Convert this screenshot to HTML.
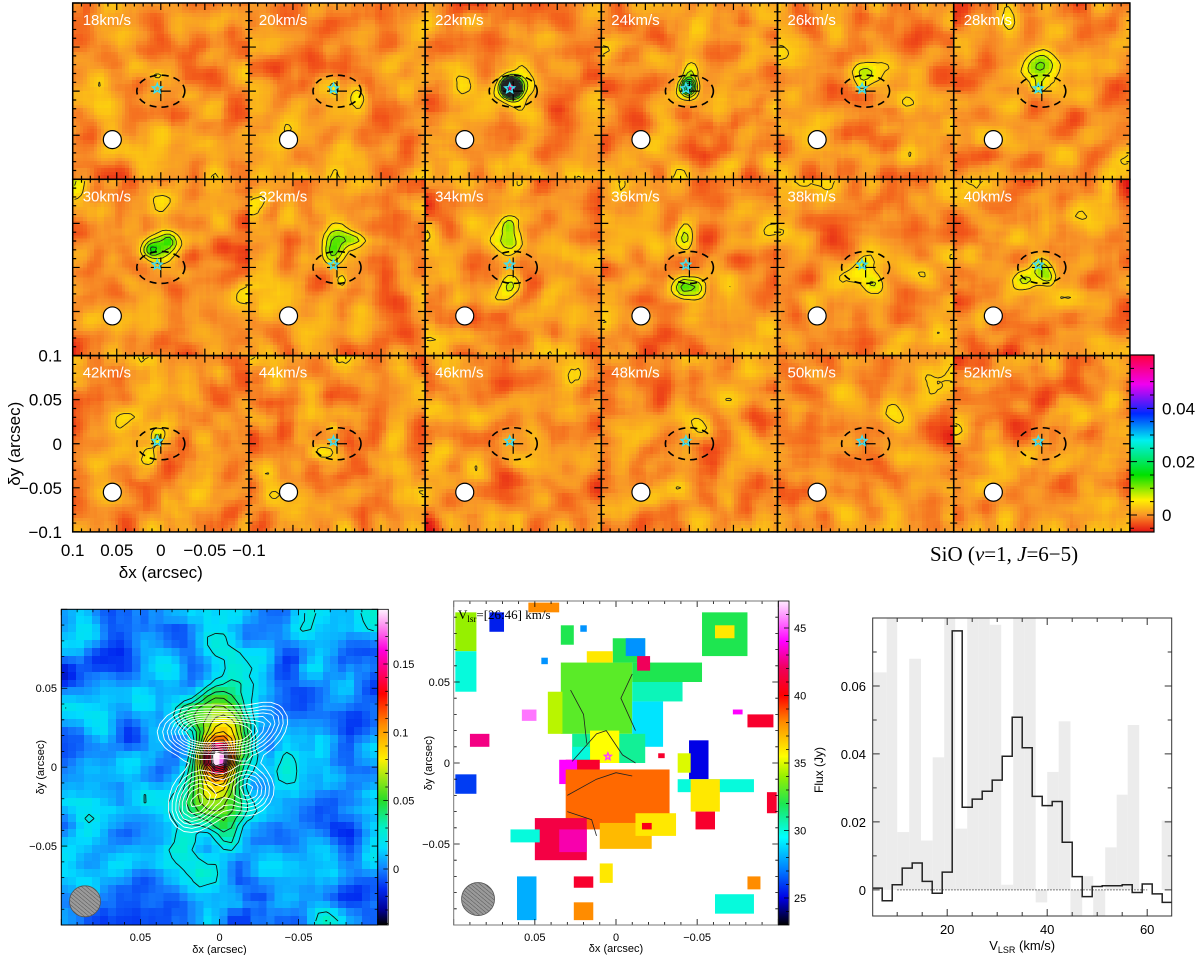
<!DOCTYPE html>
<html><head><meta charset="utf-8">
<style>
html,body{margin:0;padding:0;background:#fff;}
#wrap{position:relative;width:1200px;height:955px;overflow:hidden;font-family:"Liberation Sans",sans-serif;}
canvas{position:absolute;image-rendering:pixelated;}
svg{position:absolute;left:0;top:0;}
</style></head>
<body>
<div id="wrap">
<svg id="svg" width="1200" height="955" xmlns="http://www.w3.org/2000/svg">
<defs>
<pattern id="hatch" width="3" height="3" patternUnits="userSpaceOnUse" patternTransform="rotate(-50)">
<rect width="3" height="3" fill="#9a9a9a"/><line x1="0" y1="0" x2="0" y2="3" stroke="#555" stroke-width="1"/>
</pattern>
</defs>
</svg>
</div>
<script>
// ---------------- DATA ----------------
const chanVel = [18,20,22,24,26,28,30,32,34,36,38,40,42,44,46,48,50,52];
// emission components per channel: [x, y, amp(Jy), sx, sy] (arcsec)
const chanComps = [
 [[0.004,0.017,0.0035,0.005,0.003]],
 [[0.002,0.003,0.005,0.004,0.007],[-0.025,-0.005,0.004,0.006,0.008]],
 [[0.002,0.004,0.05,0.006,0.006],[0,0.004,0.012,0.013,0.012]],
 [[0.001,0.005,0.02,0.006,0.006],[-0.001,0.02,0.008,0.006,0.012]],
 [[0.0,0.02,0.007,0.012,0.01],[0.005,0.005,0.005,0.006,0.006]],
 [[0.0,0.025,0.009,0.016,0.012],[0.005,0.005,0.006,0.006,0.006]],
 [[0.002,0.025,0.008,0.012,0.014],[0.012,0.02,0.007,0.006,0.006],[-0.01,0.03,0.006,0.005,0.006]],
 [[0.0,0.03,0.012,0.012,0.01],[0.005,0.015,0.008,0.008,0.008],[-0.022,0.032,0.005,0.01,0.005],[-0.005,-0.015,0.005,0.005,0.005]],
 [[0.005,0.03,0.01,0.012,0.012],[0.002,-0.02,0.009,0.01,0.01],[0.005,0.048,0.006,0.006,0.006]],
 [[0.005,0.035,0.009,0.008,0.012],[0.003,-0.022,0.011,0.01,0.009],[-0.012,-0.025,0.006,0.006,0.008]],
 [[0.01,-0.01,0.006,0.014,0.012],[-0.01,-0.02,0.006,0.008,0.008],[0.002,0.005,0.004,0.005,0.005]],
 [[0.0,0.0,0.006,0.008,0.008],[0.02,-0.015,0.006,0.01,0.008],[-0.008,-0.012,0.005,0.006,0.006]],
 [[0.004,0.006,0.007,0.004,0.006],[0.012,-0.012,0.006,0.008,0.01],[0.022,-0.038,0.004,0.007,0.006]],
 [[0.012,-0.01,0.005,0.012,0.006],[0.004,0.018,0.004,0.004,0.003]],
 [],[],[],[]
];
const chanLevels = [0.0035,0.007,0.0105,0.014,0.0175,0.021,0.0245,0.028,0.0315,0.035,0.0385,0.042,0.0455,0.049];
const chanCbarTicks = [0,0.02,0.04];

// integrated intensity map
const momComps = [[0.0,0.005,0.12,0.006,0.006],[0.0,0.013,0.06,0.01,0.01],[0.002,0.033,0.05,0.02,0.018],
 [0.004,-0.028,0.05,0.02,0.015],[0.0,-0.01,0.05,0.009,0.009],[-0.01,0.06,0.018,0.006,0.012],[-0.042,0.0,0.02,0.008,0.01]];
const whiteComps = [[0.014,0.022,1,0.014,0.009],[-0.014,0.022,0.9,0.014,0.009],[0.012,-0.018,0.75,0.011,0.011],
 [-0.018,-0.014,0.75,0.01,0.01],[-0.032,0.032,0.35,0.008,0.007],[0.02,-0.03,0.35,0.008,0.008]];
const momLevels = [0.02,0.03,0.04,0.05,0.06,0.07,0.08,0.09,0.1,0.11,0.12,0.13,0.14,0.15,0.16,0.17];
const whiteLevels = [0.2,0.3,0.4,0.5,0.6,0.7,0.8,0.9];
const momCbarTicks = [0,0.05,0.1,0.15];

// velocity map blocks [x0, y0, x1, y1, v] (arcsec, km/s)
const velBlocks = [
 [0.034,0.062,-0.010,0.018,33],[0.042,0.044,0.033,0.018,34.5],[-0.010,0.062,-0.053,0.050,32],
 [-0.010,0.050,-0.041,0.038,30.5],[-0.010,0.038,-0.029,0.010,29],[0.002,0.077,-0.018,0.062,32],
 [-0.006,0.077,-0.018,0.066,27.5],[0.018,0.069,0.002,0.062,36],[0.027,0.018,-0.018,0.0,31],
 [0.016,0.020,-0.002,0.0,35.5],[0.027,0.010,0.016,0.0,30],[0.031,0.002,0.010,-0.017,41],
 [0.035,0.002,0.024,-0.013,44],[0.031,-0.004,-0.033,-0.041,38.5],[0.010,-0.037,-0.022,-0.053,37],
 [0.050,-0.034,0.018,-0.060,41.5],[0.035,-0.041,0.018,-0.055,43],[-0.012,-0.031,-0.037,-0.045,36],
 [-0.016,-0.037,-0.022,-0.041,40.5],[0.065,-0.041,0.047,-0.049,30],
 [0.099,0.093,0.086,0.069,34],[0.099,0.069,0.086,0.044,30],[0.099,-0.007,0.086,-0.019,26],
 [0.090,0.018,0.078,0.010,42.5],[0.058,0.033,0.049,0.026,45.5],[0.078,0.093,0.069,0.081,25.5],
 [0.054,0.099,0.035,0.093,38],[0.034,0.085,0.026,0.073,32],[-0.013,0.066,-0.021,0.057,42],
 [-0.053,0.093,-0.081,0.066,32],[-0.061,0.085,-0.073,0.077,36],[-0.045,0.014,-0.057,-0.010,25],
 [-0.038,0.006,-0.046,-0.006,35],[-0.038,-0.010,-0.085,-0.018,30],[-0.046,-0.010,-0.064,-0.030,36],
 [-0.049,-0.030,-0.061,-0.041,41],[-0.081,0.030,-0.097,0.022,41],[-0.093,-0.018,-0.099,-0.031,41],
 [0.026,-0.070,0.014,-0.077,41],[0.010,-0.062,0.002,-0.074,36],[0.026,-0.086,0.014,-0.097,38],
 [0.061,-0.070,0.049,-0.097,28],[-0.061,-0.081,-0.085,-0.093,30],[-0.081,-0.070,-0.089,-0.078,38],
 [-0.072,0.033,-0.078,0.030,44],[0.046,0.065,0.042,0.061,27.5],[0.022,0.085,0.018,0.081,27.5],
 [-0.026,0.006,-0.030,0.003,41]
];
const velCbarTicks = [25,30,35,40,45];

// spectrum
const specEdges = [5,7,9,11,13,15,17,19,21,23,25,27,29,31,33,35,37,39,41,43,45,47,49,51,53,55,57,59,61,63,65];
const specFlux = [0.0005,-0.0032,0.0015,0.0064,0.0079,0.0025,-0.001,0.0052,0.0762,0.0243,0.0267,0.029,0.0323,0.0393,0.0508,0.0418,0.0275,0.0248,0.026,0.014,0.0039,-0.002,0.001,0.0012,0.0012,0.0015,-0.0008,0.0017,-0.0012,-0.0037];
const noiseEdges = [5.1,7.9,10.0,12.4,14.75,17.1,19.4,21.6,24.0,26.3,28.5,30.8,33.2,35.5,37.7,40.0,42.3,44.65,47.0,49.2,51.6,53.9,56.1,58.4,60.7,62.9,65];
const noiseVals = [0.064,0.09,0.017,0.068,0.0145,0.039,0.09,0.018,0.09,0.09,0.078,0.0015,0.09,0.09,-0.0037,0.0347,0.0496,-0.0077,0.004,-0.0077,0.0125,0.028,0.0485,0,0,0.0204];
const specXTicks = [20,40,60];
const specYTicks = [0,0.02,0.04,0.06];

// ---------------- HELPERS ----------------
const svg = document.getElementById('svg');
const wrap = document.getElementById('wrap');
const NS = 'http://www.w3.org/2000/svg';
function mk(tag, attrs, parent){ const e=document.createElementNS(NS,tag); for(const k in attrs) e.setAttribute(k,attrs[k]); (parent||svg).appendChild(e); return e; }
function txt(s,x,y,size,anchor,parent,fam,fill){ const t=mk('text',{x:x,y:y,'font-size':size,'text-anchor':anchor||'middle','font-family':fam||'"Liberation Sans",sans-serif',fill:fill||'#000'},parent); t.textContent=s; return t; }
function rng(seed){ let s=seed>>>0; return ()=>{ s=(Math.imul(s,1664525)+1013904223)>>>0; return s/4294967296; }; }
function noiseGrid(n, seed, sd, r){
  const R=rng(seed); let g=[]; for(let j=0;j<n;j++){g.push([]);for(let i=0;i<n;i++)g[j].push(R()+R()+R()-1.5);}
  for(let pass=0;pass<2;pass++){
    let h=g.map(row=>row.map((_,i)=>{let s=0,c=0;for(let k=-r;k<=r;k++){const ii=i+k;if(ii>=0&&ii<n){s+=row[ii];c++;}}return s/c;}));
    g=h.map((row,j)=>row.map((_,i)=>{let s=0,c=0;for(let k=-r;k<=r;k++){const jj=j+k;if(jj>=0&&jj<n){s+=h[jj][i];c++;}}return s/c;}));
  }
  let m=0,v=0; g.forEach(r=>r.forEach(x=>{m+=x;})); m/=n*n; g.forEach(r=>r.forEach(x=>{v+=(x-m)*(x-m);})); v=Math.sqrt(v/(n*n));
  return g.map(r=>r.map(x=>(x-m)/v*sd));
}
function gauss(comps,x,y){ let s=0; comps.forEach(c=>{ s+=c[2]*Math.exp(-((x-c[0])**2/(2*c[3]*c[3])+(y-c[1])**2/(2*c[4]*c[4]))); }); return s; }
function cmapFn(stops){ return v=>{ if(v<=stops[0][0]) return stops[0][1]; for(let k=1;k<stops.length;k++){ if(v<=stops[k][0]){ const a=stops[k-1],b=stops[k],t=(v-a[0])/(b[0]-a[0]); return a[1].map((c,i)=>Math.round(c+(b[1][i]-c)*t)); } } return stops[stops.length-1][1]; }; }
const chanCmap = cmapFn([[-0.0064,[225,20,20]],[-0.003,[242,85,25]],[0,[248,150,40]],[0.0056,[255,240,0]],[0.015,[0,225,0]],[0.028,[0,240,240]],[0.038,[0,40,255]],[0.049,[240,0,240]],[0.06,[255,0,60]]]);
const momCmap = cmapFn([[-0.041,[0,0,0]],[-0.03,[0,0,150]],[-0.015,[0,40,240]],[0.0,[20,130,255]],[0.015,[0,220,255]],[0.03,[0,240,200]],[0.05,[40,220,40]],[0.08,[255,240,0]],[0.105,[255,140,0]],[0.128,[255,0,0]],[0.16,[255,0,220]],[0.19,[255,245,255]]]);
const velCmap = cmapFn([[23,[0,0,0]],[25,[0,0,230]],[27,[0,120,255]],[29.5,[0,255,255]],[32,[30,230,80]],[34,[150,240,0]],[35.5,[255,255,0]],[38,[255,140,0]],[40,[255,0,0]],[42,[240,0,90]],[44,[255,0,255]],[47,[255,235,255]]]);
function rgb(c){return 'rgb('+c[0]+','+c[1]+','+c[2]+')';}
function makeCanvas(x,y,w,h,name){ const c=document.createElement('canvas'); c.width=Math.round(w); c.height=Math.round(h); c.style.left=x+'px'; c.style.top=y+'px'; c.style.width=w+'px'; c.style.height=h+'px';
  
  
  wrap.insertBefore(c,svg); return c.getContext('2d'); }
function contour(grid,n,level,px,py){
  let d='';
  for(let j=0;j<n-1;j++)for(let i=0;i<n-1;i++){
    const a=grid[j][i],b=grid[j][i+1],c=grid[j+1][i+1],e=grid[j+1][i];
    const idx=(a>level?8:0)|(b>level?4:0)|(c>level?2:0)|(e>level?1:0);
    if(idx===0||idx===15)continue;
    const T=()=>[px(i+(level-a)/(b-a)),py(j)], Rr=()=>[px(i+1),py(j+(level-b)/(c-b))], B=()=>[px(i+(level-e)/(c-e)),py(j+1)], L=()=>[px(i),py(j+(level-a)/(e-a))];
    const segs={1:[[L,B]],2:[[B,Rr]],3:[[L,Rr]],4:[[T,Rr]],5:[[L,T],[B,Rr]],6:[[T,B]],7:[[L,T]],8:[[L,T]],9:[[T,B]],10:[[T,Rr],[L,B]],11:[[T,Rr]],12:[[L,Rr]],13:[[B,Rr]],14:[[L,B]]}[idx];
    segs.forEach(s=>{const p=s[0](),q=s[1](); d+='M'+p[0].toFixed(1)+' '+p[1].toFixed(1)+'L'+q[0].toFixed(1)+' '+q[1].toFixed(1);});
  }
  return d;
}
function dashedEllipse(cx,cy,rx,ry,g){ mk('ellipse',{cx:cx,cy:cy,rx:rx,ry:ry,fill:'none',stroke:'#000','stroke-width':1.6,'stroke-dasharray':'7,5'},g); }
function star(cx,cy,r,color,g){ let pts=[]; for(let k=0;k<10;k++){const rr=k%2?r*0.45:r; const a=-Math.PI/2+k*Math.PI/5; pts.push((cx+rr*Math.cos(a)).toFixed(1)+','+(cy+rr*Math.sin(a)).toFixed(1));} return mk('polygon',{points:pts.join(' '),fill:'none',stroke:color,'stroke-width':1.5},g); }

// ---------------- CHANNEL MAPS ----------------
const CX0=72.7, CY0=3, CW=176.2, CH=176.3, N=50;
const cgAll = mk('g',{});


chanVel.forEach((vel,k)=>{
  const col=k%6,row=Math.floor(k/6), x0=CX0+col*CW, y0=CY0+row*CH;
  const noise=noiseGrid(N,1000+k*77,0.0015,2);
  const grid=[];
  for(let j=0;j<N;j++){grid.push([]);for(let i=0;i<N;i++){const ax=0.1-(i+0.5)*0.2/N, ay=0.1-(j+0.5)*0.2/N; grid[j].push(noise[j][i]+gauss(chanComps[k],ax,ay));}}
  const ctx=makeCanvas(x0,y0,CW,CH,'channel-map-'+vel+'-image');
  const cw=CW/N,ch=CH/N;
  for(let j=0;j<N;j++)for(let i=0;i<N;i++){ctx.fillStyle=rgb(chanCmap(grid[j][i]));ctx.fillRect(Math.floor(i*cw),Math.floor(j*ch),Math.ceil(cw)+1,Math.ceil(ch)+1);}
  const g=mk('g',{},cgAll);
  
  
  const px=i=>x0+(i+0.5)*cw, py=j=>y0+(j+0.5)*ch;
  const cp=mk('clipPath',{id:'cp'+k},g); mk('rect',{x:x0,y:y0,width:CW,height:CH},cp);
  let d=''; chanLevels.forEach(l=>{d+=contour(grid,N,l,px,py);});
  const cpath=mk('path',{d:d,fill:'none',stroke:'#222','stroke-width':0.9,'clip-path':'url(#cp'+k+')'},g);
  
  
  const sx=a=>x0+(0.1-a)*CW/0.2, sy=a=>y0+(0.1-a)*CH/0.2;
  let td='';
  for(let t=-10;t<=10;t++){const a=t/100, L=(t%5===0)?7:3.5;
    td+='M'+sx(a)+' '+y0+'v'+L+'M'+sx(a)+' '+(y0+CH)+'v'+(-L)+'M'+x0+' '+sy(a)+'h'+L+'M'+(x0+CW)+' '+sy(a)+'h'+(-L);}
  td+='M'+(sx(0)-10)+' '+sy(0)+'h20M'+sx(0)+' '+(sy(0)-10)+'v20';
  mk('path',{d:td,stroke:'#000','stroke-width':1.2,fill:'none'},g);
  mk('rect',{x:x0,y:y0,width:CW,height:CH,fill:'none',stroke:'#000','stroke-width':1.5},g);
  dashedEllipse(sx(0),sy(0),24,16,g);
  star(sx(0.004),sy(0.003),5,'#3fe0f0',g);
  const beam=mk('circle',{cx:sx(0.055),cy:sy(-0.055),r:9,fill:'#fff',stroke:'#000','stroke-width':1.2},g);
  
  
  const lab=txt(vel+'km/s',x0+10,y0+22,15,'start',g,'"Liberation Sans",sans-serif','#fff');
  
  
});
{
  const g=mk('g',{});
  
  
  const yt=[[0.1,'0.1'],[0.05,'0.05'],[0,'0'],[-0.05,'\u22120.05'],[-0.1,'\u22120.1']];
  const by=CY0+2*CH;
  yt.forEach(t=>{const e=txt(t[1],62,by+(0.1-t[0])*CH/0.2+6,17,'end',g);  });
  yt.forEach(t=>{const e=txt(t[1],CX0+(0.1-t[0])*CW/0.2,556,17,'middle',g);  });
  const yl=txt('\u03b4y (arcsec)',0,0,17,'middle',g); yl.setAttribute('transform','translate(20,'+(by+CH/2)+') rotate(-90)');
  
  
  const xl=txt('\u03b4x (arcsec)',CX0+CW/2,578,17,'middle',g);
  
  
  const tt=mk('text',{x:930,y:561,'font-size':21,'font-family':'"Liberation Serif",serif'},g);
  tt.innerHTML='SiO (<tspan font-style="italic">v</tspan>=1, <tspan font-style="italic">J</tspan>=6\u22125)';
  
  
  const cbx=1130,cby=355,cbw=24,cbh=177, vmin=-0.0064, vmax=0.06;
  const ctx=makeCanvas(cbx,cby,cbw,cbh,'channel-colorbar-image');
  for(let y=0;y<cbh;y++){ctx.fillStyle=rgb(chanCmap(vmax-(y+0.5)/cbh*(vmax-vmin)));ctx.fillRect(0,y,cbw,1);}
  const cg=mk('g',{},g);
  
  
  mk('rect',{x:cbx,y:cby,width:cbw,height:cbh,fill:'none',stroke:'#000','stroke-width':1.2},cg);
  const cy=v=>cby+(vmax-v)/(vmax-vmin)*cbh;
  let td=''; for(let t=-5;t<=58;t+=5){const v=t/1000;const L=(t%20===0)?7:4; td+='M'+(cbx+cbw)+' '+cy(v)+'h'+(-L)+'M'+cbx+' '+cy(v)+'h'+L;}
  mk('path',{d:td,stroke:'#000','stroke-width':1},cg);
  chanCbarTicks.forEach(v=>{const e=txt(v===0?'0':v.toFixed(2),1162,cy(v)+6,17,'start',cg);  });
}

// ---------------- INTEGRATED INTENSITY MAP ----------------
{
  const x0=61.3,y0=609.3,W=316.4,H=315.7,n=40;
  const g=mk('g',{});
  
  
  const noise=noiseGrid(n,4242,0.0085,1);
  const grid=[],wgrid=[];
  for(let j=0;j<n;j++){grid.push([]);wgrid.push([]);for(let i=0;i<n;i++){const ax=0.1-(i+0.5)*0.2/n, ay=0.1-(j+0.5)*0.2/n; grid[j].push(0.003+noise[j][i]+gauss(momComps,ax,ay)); wgrid[j].push(gauss(whiteComps,ax,ay));}}
  const ctx=makeCanvas(x0,y0,W,H,'intensity-map-image');
  const cw=W/n,ch=H/n;
  for(let j=0;j<n;j++)for(let i=0;i<n;i++){ctx.fillStyle=rgb(momCmap(grid[j][i]));ctx.fillRect(Math.floor(i*cw),Math.floor(j*ch),Math.ceil(cw)+1,Math.ceil(ch)+1);}
  const px=i=>x0+(i+0.5)*cw, py=j=>y0+(j+0.5)*ch;
  let d=''; momLevels.forEach(l=>{d+=contour(grid,n,l,px,py);});
  const bc=mk('path',{d:d,fill:'none',stroke:'#111','stroke-width':0.9},g);
  
  
  let w=''; whiteLevels.forEach(l=>{w+=contour(wgrid,n,l,px,py);});
  const wc=mk('path',{d:w,fill:'none',stroke:'#fff','stroke-width':0.9},g);
  
  
  const sx=a=>x0+(0.1-a)*W/0.2, sy=a=>y0+(0.1-a)*H/0.2;
  let td=''; for(let t=-10;t<=10;t++){const a=t/100,L=(t%5===0)?6:3; td+='M'+sx(a)+' '+y0+'v'+L+'M'+sx(a)+' '+(y0+H)+'v'+(-L)+'M'+x0+' '+sy(a)+'h'+L+'M'+(x0+W)+' '+sy(a)+'h'+(-L);}
  mk('path',{d:td,stroke:'#000','stroke-width':0.8},g);
  mk('rect',{x:x0,y:y0,width:W,height:H,fill:'none',stroke:'#000','stroke-width':1},g);
  const bm=mk('circle',{cx:sx(0.085),cy:sy(-0.085),r:15.5,fill:'url(#hatch)',stroke:'#555','stroke-width':0.8},g);
  
  
  [[0.05,'0.05'],[0,'0'],[-0.05,'\u22120.05']].forEach(t=>{
    const a=txt(t[1],57,sy(t[0])+4,11,'end',g);  
    const b=txt(t[1],sx(t[0]),941,11,'middle',g);  });
  const xl=txt('\u03b4x (arcsec)',sx(0),953,11,'middle',g);
  
  
  const yl=txt('\u03b4y (arcsec)',0,0,11,'middle',g); yl.setAttribute('transform','translate(44,'+sy(0)+') rotate(-90)');
  
  
  const cbx=377.7,cbw=10.6,vmin=-0.041,vmax=0.19;
  const c2=makeCanvas(cbx,y0,cbw,H,'intensity-colorbar-image');
  for(let y=0;y<H;y++){c2.fillStyle=rgb(momCmap(vmax-(y+0.5)/H*(vmax-vmin)));c2.fillRect(0,y,cbw,1);}
  const cg=mk('g',{},g);
  
  
  mk('rect',{x:cbx,y:y0,width:cbw,height:H,fill:'none',stroke:'#000','stroke-width':0.8},cg);
  const cy=v=>y0+(vmax-v)/(vmax-vmin)*H;
  let cd=''; for(let t=-4;t<=18;t++){const v=t/100; cd+='M'+(cbx+cbw)+' '+cy(v)+'h'+(t%5===0?-5:-3);}
  mk('path',{d:cd,stroke:'#000','stroke-width':0.8},cg);
  momCbarTicks.forEach(v=>{const e=txt(v===0?'0':String(v),393,cy(v)+4,11,'start',cg);  });
}

// ---------------- VELOCITY MAP ----------------
{
  const x0=453.7,y0=601,W=324.6,H=324,vmin=23,vmax=47;
  const g=mk('g',{});
  
  
  const sx=a=>x0+(0.1-a)*W/0.2, sy=a=>y0+(0.1-a)*H/0.2;
  velBlocks.forEach(b=>{
    const r=mk('rect',{x:sx(b[0]),y:sy(b[1]),width:sx(b[2])-sx(b[0]),height:sy(b[3])-sy(b[1]),fill:rgb(velCmap(b[4]))},g);
    
    
  });
  const cl=mk('path',{d:'M'+sx(0.027)+' '+sy(0.001)+'L'+sx(0.012)+' '+sy(0.018)+'L'+sx(0.006)+' '+sy(0.02)+'L'+sx(-0.004)+' '+sy(0.005)+'L'+sx(-0.012)+' '+sy(0.0)+
   'M'+sx(0.03)+' '+sy(-0.02)+'L'+sx(0.012)+' '+sy(-0.01)+'L'+sx(0.0)+' '+sy(-0.006)+'L'+sx(-0.01)+' '+sy(-0.008)+
   'M'+sx(0.028)+' '+sy(0.045)+'L'+sx(0.02)+' '+sy(0.03)+'L'+sx(0.018)+' '+sy(0.012)+
   'M'+sx(-0.01)+' '+sy(0.055)+'L'+sx(-0.003)+' '+sy(0.04)+'L'+sx(-0.012)+' '+sy(0.02)+
   'M'+sx(0.03)+' '+sy(-0.03)+'L'+sx(0.015)+' '+sy(-0.035)+'L'+sx(0.012)+' '+sy(-0.045),fill:'none',stroke:'#222','stroke-width':0.8},g);
  
  
  star(sx(0.005),sy(0.004),3.5,'#ff40ff',g);
  let td=''; for(let t=-10;t<=10;t++){const a=t/100,L=(t%5===0)?6:3; td+='M'+sx(a)+' '+y0+'v'+L+'M'+sx(a)+' '+(y0+H)+'v'+(-L)+'M'+x0+' '+sy(a)+'h'+L+'M'+(x0+W)+' '+sy(a)+'h'+(-L);}
  mk('path',{d:td,stroke:'#000','stroke-width':0.8},g);
  mk('rect',{x:x0,y:y0,width:W,height:H,fill:'none',stroke:'#777','stroke-width':1},g);
  const bm=mk('circle',{cx:sx(0.085),cy:sy(-0.084),r:16.5,fill:'url(#hatch)',stroke:'#555','stroke-width':0.8},g);
  
  
  const tl=mk('text',{x:458,y:619,'font-size':13,'font-family':'"Liberation Serif",serif'},g);
  tl.innerHTML='V<tspan font-size="9" dy="3">lsr</tspan><tspan dy="-3">=[26:46] km/s</tspan>';
  
  
  [[0.05,'0.05'],[0,'0'],[-0.05,'\u22120.05']].forEach(t=>{
    const a=txt(t[1],450,sy(t[0])+4,11,'end',g);  
    const b=txt(t[1],sx(t[0]),941,11,'middle',g);  });
  const xl=txt('\u03b4x (arcsec)',sx(0),952,11,'middle',g);
  
  
  const yl=txt('\u03b4y (arcsec)',0,0,11,'middle',g); yl.setAttribute('transform','translate(432,'+sy(0)+') rotate(-90)');
  
  
  const cbx=778.3,cbw=10.7;
  const c2=makeCanvas(cbx,y0,cbw,H,'velocity-colorbar-image');
  for(let y=0;y<H;y++){c2.fillStyle=rgb(velCmap(vmax-(y+0.5)/H*(vmax-vmin)));c2.fillRect(0,y,cbw,1);}
  const cg=mk('g',{},g);
  
  
  mk('rect',{x:cbx,y:y0,width:cbw,height:H,fill:'none',stroke:'#000','stroke-width':0.8},cg);
  const cy=v=>y0+(vmax-v)/(vmax-vmin)*H;
  let cd=''; for(let v=24;v<=46;v++){cd+='M'+(cbx+cbw)+' '+cy(v)+'h'+(v%5===0?-5:-3);}
  mk('path',{d:cd,stroke:'#000','stroke-width':0.8},cg);
  velCbarTicks.forEach(v=>{const e=txt(String(v),794,cy(v)+4,11,'start',cg);  });
  const fl=txt('Flux (Jy)',0,0,12,'middle',cg); fl.setAttribute('transform','translate(823,770) rotate(-90)');
  
  
}

// ---------------- SPECTRUM ----------------
{
  const x0=872.7,y0=618,W=299,H=298, vmin=5.1, vmax=64.9, fmin=-0.0077, fmax=0.080;
  const g=mk('g',{});
  
  
  const sx=v=>x0+(v-vmin)/(vmax-vmin)*W, sy=f=>y0+(fmax-f)/(fmax-fmin)*H;
  const cp=mk('clipPath',{id:'spclip'},g); mk('rect',{x:x0,y:y0,width:W,height:H},cp);
  const ng=mk('g',{'clip-path':'url(#spclip)'},g);
  
  
  noiseVals.forEach((v,k)=>{
    const ya=sy(Math.max(v,0)), yb=sy(Math.min(v,0));
    const r=mk('rect',{x:sx(noiseEdges[k]),y:ya,width:sx(noiseEdges[k+1])-sx(noiseEdges[k]),height:yb-ya,fill:'#ececec'},ng);
    
    
  });
  const zl=mk('line',{x1:sx(10),x2:sx(60),y1:sy(0),y2:sy(0),stroke:'#555','stroke-width':1,'stroke-dasharray':'1.5,1.5'},g);
  
  
  let d='M'+sx(specEdges[0])+' '+sy(specFlux[0]);
  specFlux.forEach((f,k)=>{ d+='H'+sx(specEdges[k+1]); if(k+1<specFlux.length) d+='V'+sy(specFlux[k+1]); });
  const sp=mk('path',{d:d,fill:'none',stroke:'#222','stroke-width':1.5,'clip-path':'url(#spclip)'},g);
  
  
  let td=''; for(let v=10;v<=60;v+=5){const L=(v%20===0)?7:4; td+='M'+sx(v)+' '+(y0+H)+'v'+(-L)+'M'+sx(v)+' '+y0+'v'+L;}
  for(let t=0;t<=8;t++){const ff=t*0.01; const L=(t%2===0)?7:4; td+='M'+x0+' '+sy(ff)+'h'+L+'M'+(x0+W)+' '+sy(ff)+'h'+(-L);}
  mk('path',{d:td,stroke:'#333','stroke-width':1},g);
  mk('rect',{x:x0,y:y0,width:W,height:H,fill:'none',stroke:'#333','stroke-width':1},g);
  specXTicks.forEach(v=>{const e=txt(String(v),sx(v),934,13,'middle',g);  });
  specYTicks.forEach(f=>{const e=txt(f===0?'0':f.toFixed(2),866,sy(f)+5,13,'end',g);  });
  const xl=mk('text',{x:sx(35),y:950,'font-size':13,'text-anchor':'middle','font-family':'"Liberation Sans",sans-serif'},g);
  xl.innerHTML='V<tspan font-size="9" dy="3">LSR</tspan><tspan dy="-3"> (km/s)</tspan>';
  
  
}
</script>
</body></html>
